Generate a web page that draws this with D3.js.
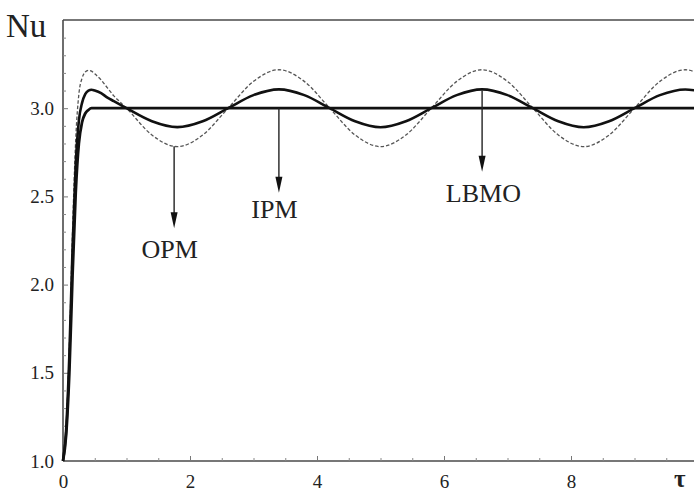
<!DOCTYPE html>
<html>
<head>
<meta charset="utf-8">
<script src="https://cdn.jsdelivr.net/npm/d3@7"></script>
<style>
  html, body { margin: 0; padding: 0; background: #fff; }
  svg { display: block; }
  svg text { font-family: "Liberation Serif", "Times New Roman", "DejaVu Serif", serif !important; fill: #222; }
</style>
</head>
<body>
<svg id="chart" width="694" height="491"></svg>
<script>
// ---- data ----
const tValues = [0, 0.05, 0.1, 0.15, 0.2, 0.25, 0.3, 0.35, 0.4, 0.45, 0.5, 0.6, 0.7, 0.8, 0.9,
  1.0, 1.4, 1.8, 2.2, 2.6, 3.0, 3.4, 3.8, 4.2, 4.6, 5.0, 5.4, 5.8, 6.2, 6.6, 7.0, 7.4, 7.8, 8.2, 8.6, 9.0, 9.4, 9.8, 10.0];

// steady curve (IPM)
const ipmValues = [1.0, 1.15, 1.5, 2.05, 2.52, 2.8, 2.92, 2.97, 2.99, 3.0, 3.0, 3.0, 3.0, 3.0, 3.0,
  3.0, 3.0, 3.0, 3.0, 3.0, 3.0, 3.0, 3.0, 3.0, 3.0, 3.0, 3.0, 3.0, 3.0, 3.0, 3.0, 3.0, 3.0, 3.0, 3.0, 3.0, 3.0, 3.0, 3.0];

// solid oscillating curve (LBMO)
const lbmoValues = [1.0, 1.18, 1.6, 2.2, 2.68, 2.93, 3.03, 3.08, 3.1, 3.105, 3.1, 3.085, 3.06, 3.04, 3.02,
  3.0, 2.926, 2.893, 2.926, 3.0, 3.074, 3.107, 3.074, 3.0, 2.926, 2.892, 2.926, 3.0, 3.074, 3.107, 3.074, 3.0, 2.926, 2.892, 2.926, 3.0, 3.074, 3.106, 3.098];

// dashed oscillating curve (OPM)
const opmValues = [1.0, 1.2, 1.65, 2.3, 2.82, 3.08, 3.17, 3.205, 3.215, 3.21, 3.195, 3.16, 3.115, 3.07, 3.035,
  3.0, 2.848, 2.782, 2.848, 3.0, 3.152, 3.218, 3.152, 3.0, 2.848, 2.782, 2.848, 3.0, 3.152, 3.218, 3.152, 3.0, 2.848, 2.782, 2.848, 3.0, 3.152, 3.218, 3.2];

const xTickValues = [0, 2, 4, 6, 8];
const xTickLabels = ["0", "2", "4", "6", "8"];
const xMinorTicks = [0.5, 1, 1.5, 2.5, 3, 3.5, 4.5, 5, 5.5, 6.5, 7, 7.5, 8.5, 9, 9.5];
const yTickValues = [1.0, 1.5, 2.0, 2.5, 3.0];
const yTickLabels = ["1.0", "1.5", "2.0", "2.5", "3.0"];
const yMinorTicks = [1.1, 1.2, 1.3, 1.4, 1.6, 1.7, 1.8, 1.9, 2.1, 2.2, 2.3, 2.4, 2.6, 2.7, 2.8, 2.9, 3.1, 3.2, 3.3, 3.4];

// annotations
const annoLabels = ["OPM", "IPM", "LBMO"];
const annoT = [1.75, 3.4, 6.6];
const annoFrom = [2.785, 3.0, 3.1];
const annoTo = [2.32, 2.52, 2.64];
const annoTextT = [1.68, 3.33, 6.62];
const annoTextY = [2.15, 2.38, 2.47];

// ---- drawing ----
const svg = d3.select("#chart");
const x = d3.scaleLinear().domain([0, 10]).range([63, 698]);
const y = d3.scaleLinear().domain([1, 3.5]).range([461, 20]);

const serif = "'Liberation Serif', 'Times New Roman', serif";
const frameColor = "#4a4a4a";

svg.append("line").attr("x1", x(0)).attr("x2", x(10)).attr("y1", y(3.5)).attr("y2", y(3.5))
  .attr("stroke", frameColor).attr("stroke-width", 1.6);

// bottom axis
const xAxis = svg.append("g").attr("transform", `translate(0,${y(1)})`)
  .call(d3.axisBottom(x).tickValues(xTickValues).tickSize(-5)
    .tickFormat((d, i) => xTickLabels[i]));
xAxis.attr("font-family", serif);
xAxis.select(".domain").attr("stroke", frameColor).attr("stroke-width", 1.6).attr("d", `M${x(0)},0H${x(10)}`);
xAxis.selectAll(".tick line").attr("stroke", "#777");
xAxis.selectAll(".tick text").attr("y", 14).attr("dy", "0.71em")
  .attr("font-family", serif).attr("font-size", 19).attr("fill", "#222");

svg.append("g").attr("transform", `translate(0,${y(1)})`)
  .call(d3.axisBottom(x).tickValues(xMinorTicks).tickSize(-3).tickFormat(""))
  .call(g => g.select(".domain").remove())
  .call(g => g.selectAll(".tick line").attr("stroke", "#888"));

// left axis
const yAxis = svg.append("g").attr("transform", `translate(${x(0)},0)`)
  .call(d3.axisLeft(y).tickValues(yTickValues).tickSize(-5)
    .tickFormat((d, i) => yTickLabels[i]));
yAxis.attr("font-family", serif);
yAxis.select(".domain").attr("stroke", frameColor).attr("stroke-width", 1.6).attr("d", `M0,${y(1)}V${y(3.5)}`);
yAxis.selectAll(".tick line").attr("stroke", "#777");
yAxis.selectAll(".tick text").attr("x", -9)
  .attr("font-family", serif).attr("font-size", 19).attr("fill", "#222");

svg.append("g").attr("transform", `translate(${x(0)},0)`)
  .call(d3.axisLeft(y).tickValues(yMinorTicks).tickSize(-3).tickFormat(""))
  .call(g => g.select(".domain").remove())
  .call(g => g.selectAll(".tick line").attr("stroke", "#888"));

// series
const line = d3.line().x(d => x(d[0])).y(d => y(d[1])).curve(d3.curveMonotoneX);
const mk = vals => tValues.map((t, i) => [t, vals[i]]);

svg.append("path").datum(mk(opmValues)).attr("d", line)
  .attr("fill", "none").attr("stroke", "#555").attr("stroke-width", 1.3).attr("stroke-dasharray", "3.5,2");
svg.append("path").datum(mk(lbmoValues)).attr("d", line)
  .attr("fill", "none").attr("stroke", "#111").attr("stroke-width", 2.6);
svg.append("path").datum(mk(ipmValues)).attr("d", line)
  .attr("fill", "none").attr("stroke", "#111").attr("stroke-width", 2.8);

// annotations
annoLabels.forEach((lab, i) => {
  const ax = x(annoT[i]);
  const y0 = y(annoFrom[i]);
  const y1 = y(annoTo[i]);
  svg.append("line").attr("x1", ax).attr("x2", ax).attr("y1", y0).attr("y2", y1 - 12)
    .attr("stroke", "#222").attr("stroke-width", 1.4);
  svg.append("path").attr("d", `M${ax - 3.5},${y1 - 16}L${ax + 3.5},${y1 - 16}L${ax},${y1}Z`)
    .attr("fill", "#111");
  svg.append("text").attr("x", x(annoTextT[i])).attr("y", y(annoTextY[i]))
    .attr("text-anchor", "middle").attr("font-family", serif).attr("font-size", 26).text(lab);
});

// axis titles
svg.append("text").attr("x", 6).attr("y", 37).attr("font-family", serif).attr("font-size", 33).text("Nu");
svg.append("text").attr("x", 674).attr("y", 487).attr("font-family", serif).attr("font-size", 25)
  .attr("font-weight", "bold").text("τ");
</script>
</body>
</html>
